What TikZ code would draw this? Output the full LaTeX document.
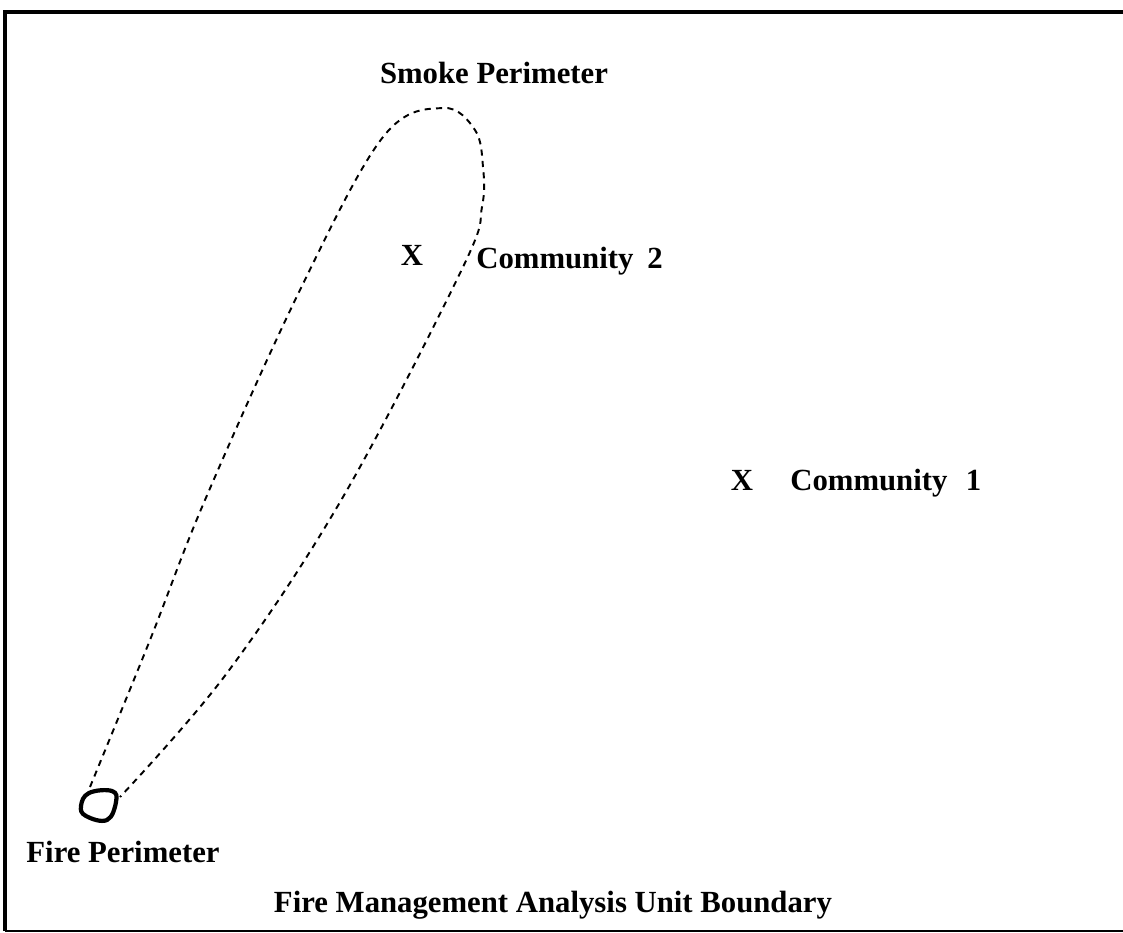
\documentclass[tikz,border=0pt]{standalone}
\usepackage{fontspec}
\setmainfont{Liberation Serif}

\begin{document}
\begin{tikzpicture}[x=0.02cm, y=-0.02cm, font=\fontsize{17.5}{21}\selectfont\bfseries]
  \useasboundingbox (0,0) rectangle (1123,933);
  % Unit boundary (right side not shown)
  \draw[line width=2.3pt] (1123,12) -- (5,12) -- (5,931);
  \draw[line width=1.1pt] (5,931) -- (1123,931);
  % Smoke perimeter, dashed plume from the fire
  \draw[line width=1.1pt, dash pattern=on 3.5pt off 3pt]
    plot[smooth, tension=0.6] coordinates {(90,787) (150,640) (205,500) (300,290)
      (383,137) (443,108) (475,130) (483,167) (482,207) (463,267) (343,497)
      (227,673) (120,797)};
  % Fire perimeter blob
  \draw[line width=2.4pt] plot[smooth cycle, tension=0.7]
    coordinates {(89,793) (112,791) (116,802) (107,820) (86,816) (81,806)};
  % Labels
  \node[anchor=base, inner sep=0pt] (smokelbl) at (494,83) {Smoke Perimeter};
  \node[anchor=base, inner sep=0pt] (firelbl) at (123,862) {Fire Perimeter};
  \node[anchor=base, inner sep=0pt] (unitlbl) at (553,912) {Fire Management Analysis Unit Boundary};
  % Communities
  \node[anchor=base, inner sep=0pt] (x2) at (412,265) {X};
  \node[anchor=base west, inner sep=0pt] (comm2) at (476,268) {Community\hspace{0.45em}2};
  \node[anchor=base, inner sep=0pt] (x1) at (742,490) {X};
  \node[anchor=base west, inner sep=0pt] (comm1) at (790,490) {Community\hspace{0.6em}1};
\end{tikzpicture}
\end{document}
